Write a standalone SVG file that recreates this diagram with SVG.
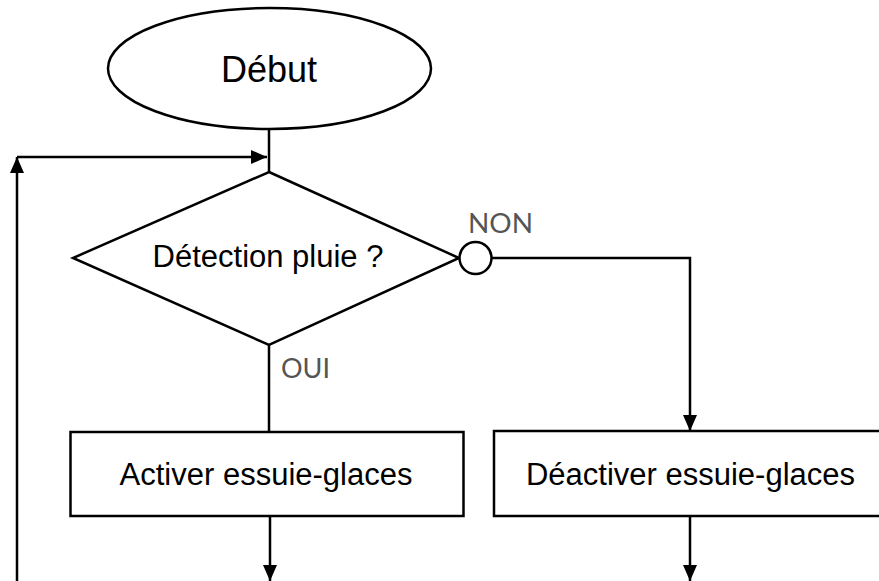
<svg xmlns="http://www.w3.org/2000/svg" width="879" height="581" viewBox="0 0 879 581">
<style>
.shape{fill:#fff;stroke:#000;stroke-width:2.5}
.line{fill:none;stroke:#000;stroke-width:2.5}
.t{font-family:"Liberation Sans",Arial,sans-serif;fill:#000;text-anchor:middle}
.lbl{font-family:Lato,"Noto Sans",sans-serif;fill:#555;font-size:26px}
</style>
<defs>
<marker id="arr" viewBox="0 0 16 14" refX="16" refY="7" markerWidth="16" markerHeight="14" markerUnits="userSpaceOnUse" orient="auto">
<path d="M0,0 L16,7 L0,14 Z" fill="#000"/>
</marker>
</defs>
<rect width="879" height="581" fill="#fff"/>
<g id="connectors">
<line class="line" x1="269" y1="129" x2="269" y2="172"/>
<polyline class="line" points="17,581 17,157" marker-end="url(#arr)"/>
<polyline class="line" points="17,157 267,157" marker-end="url(#arr)"/>
<line class="line" x1="269" y1="345" x2="269" y2="432"/>
<polyline class="line" points="492,258 690,258 690,431" marker-end="url(#arr)"/>
<line class="line" x1="270" y1="516" x2="270" y2="581" marker-end="url(#arr)"/>
<line class="line" x1="690" y1="516" x2="690" y2="581" marker-end="url(#arr)"/>
</g>
<g id="start">
<ellipse class="shape" cx="269.5" cy="68.5" rx="161.5" ry="60.5"/>
<text class="t" x="269" y="82" font-size="36">Début</text>
</g>
<g id="decision">
<polygon class="shape" points="269,172 459,258 269,345 73,258"/>
<text class="t" x="268" y="267" font-size="31">Détection pluie ?</text>
</g>
<g id="no-connector">
<circle class="shape" cx="475.5" cy="258" r="16"/>
<text class="lbl" x="468" y="233" textLength="65" lengthAdjust="spacingAndGlyphs">NON</text>
</g>
<g id="yes-label">
<text class="lbl" x="281" y="378" textLength="49" lengthAdjust="spacingAndGlyphs">OUI</text>
</g>
<g id="activate">
<rect class="shape" x="70.5" y="432" width="393" height="84"/>
<text class="t" x="266" y="485" font-size="31">Activer essuie-glaces</text>
</g>
<g id="deactivate">
<rect class="shape" x="494" y="431" width="393" height="85"/>
<text class="t" x="690.5" y="485" font-size="31">Déactiver essuie-glaces</text>
</g>
</svg>
